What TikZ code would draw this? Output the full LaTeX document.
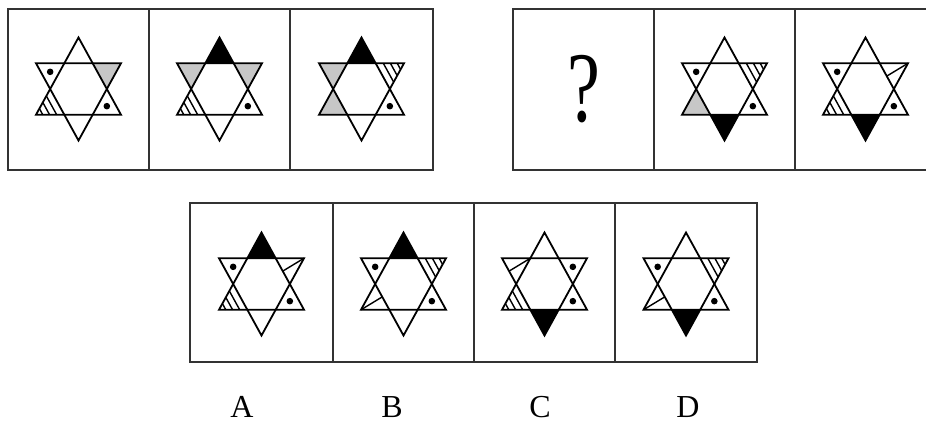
\documentclass[tikz,border=0pt]{standalone}
\usepackage{fontspec}
\setmainfont{Liberation Serif}
\usepackage{graphicx}
\usetikzlibrary{calc}
\tikzset{
  panel/.style={draw=black!80, line width=1.8pt},
  starline/.style={draw=black, line width=1.8pt, line join=miter},
  hatchline/.style={draw=black, line width=1.4pt},
  grayfill/.style={fill=black!22},
  blackfill/.style={fill=black},
  lab/.style={inner sep=0pt, font=\fontsize{32}{32}\selectfont}
}
\newcommand\starpts{%
 \coordinate (U) at (0,51.5); \coordinate (D) at (0,-51.5);
 \coordinate (TL) at (-42.5,25.75); \coordinate (TR) at (42.5,25.75);
 \coordinate (BL) at (-42.5,-25.75); \coordinate (BR) at (42.5,-25.75);
 \coordinate (ITL) at (-14.167,25.75); \coordinate (ITR) at (14.167,25.75);
 \coordinate (IBL) at (-14.167,-25.75); \coordinate (IBR) at (14.167,-25.75);
 \coordinate (VL) at (-28.333,0); \coordinate (VR) at (28.333,0);}
\newcommand\staroutline{\draw[starline] (U) -- (BR) -- (BL) -- cycle; \draw[starline] (D) -- (TL) -- (TR) -- cycle;}
\newcommand\fT[1]{\fill[#1] (U) -- (ITL) -- (ITR) -- cycle;}
\newcommand\fB[1]{\fill[#1] (D) -- (IBL) -- (IBR) -- cycle;}
\newcommand\fUL[1]{\fill[#1] (TL) -- (ITL) -- (VL) -- cycle;}
\newcommand\fUR[1]{\fill[#1] (TR) -- (ITR) -- (VR) -- cycle;}
\newcommand\fLL[1]{\fill[#1] (BL) -- (IBL) -- (VL) -- cycle;}
\newcommand\dUL{\fill (-28.333,17.167) circle (3.3pt);}
\newcommand\dUR{\fill (28.333,17.167) circle (3.3pt);}
\newcommand\dLR{\fill (28.333,-17.167) circle (3.3pt);}
\newcommand\hUR{\foreach \hh in {0.27,0.52,0.76}{\draw[hatchline] ($(ITR)!\hh!(TR)$) -- ($(VR)!\hh!(TR)$);}}
\newcommand\hLL{\foreach \hh in {0.27,0.52,0.76}{\draw[hatchline] ($(IBL)!\hh!(BL)$) -- ($(VL)!\hh!(BL)$);}}
\newcommand\lUR{\draw[hatchline] (TR) -- ($(ITR)!0.5!(VR)$);}
\newcommand\lLL{\draw[hatchline] (BL) -- ($(IBL)!0.5!(VL)$);}
\newcommand\lUL{\draw[hatchline] (ITL) -- ($(TL)!0.5!(VL)$);}
\begin{document}
\begin{tikzpicture}[x=1pt,y=-1pt]
\useasboundingbox (0,0) rectangle (926,423);
\clip (0,0) rectangle (926,423);
\fill[white] (0,0) rectangle (926,423);
% panels
\draw[panel] (8,9) rectangle (433,170);
\draw[panel] (149,9) -- (149,170);
\draw[panel] (290,9) -- (290,170);
\draw[panel] (513,9) rectangle (936,170);
\draw[panel] (654,9) -- (654,170);
\draw[panel] (795,9) -- (795,170);
\draw[panel] (190,203) rectangle (757,362);
\draw[panel] (333,203) -- (333,362);
\draw[panel] (474,203) -- (474,362);
\draw[panel] (615,203) -- (615,362);
% star 1
\begin{scope}[shift={(78.5,89)},yscale=-1]
\starpts \fUR{grayfill} \hLL \staroutline \dUL \dLR
\end{scope}
% star 2
\begin{scope}[shift={(219.5,89)},yscale=-1]
\starpts \fT{blackfill} \fUL{grayfill} \fUR{grayfill} \hLL \staroutline \dLR
\end{scope}
% star 3
\begin{scope}[shift={(361.5,89)},yscale=-1]
\starpts \fT{blackfill} \fUL{grayfill} \fLL{grayfill} \hUR \staroutline \dLR
\end{scope}
% question mark
\node[inner sep=0pt] (q) at (584,89) {\scalebox{0.74}[1]{\fontsize{100}{100}\selectfont ?}};
% star 4
\begin{scope}[shift={(724.5,89)},yscale=-1]
\starpts \fB{blackfill} \fLL{grayfill} \hUR \staroutline \dUL \dLR
\end{scope}
% star 5
\begin{scope}[shift={(865.5,89)},yscale=-1]
\starpts \fB{blackfill} \lUR \hLL \staroutline \dUL \dLR
\end{scope}
% option A
\begin{scope}[shift={(261.5,284)},yscale=-1]
\starpts \fT{blackfill} \lUR \hLL \staroutline \dUL \dLR
\end{scope}
% option B
\begin{scope}[shift={(403.5,284)},yscale=-1]
\starpts \fT{blackfill} \hUR \lLL \staroutline \dUL \dLR
\end{scope}
% option C
\begin{scope}[shift={(544.5,284)},yscale=-1]
\starpts \fB{blackfill} \lUL \hLL \staroutline \dUR \dLR
\end{scope}
% option D
\begin{scope}[shift={(686,284)},yscale=-1]
\starpts \fB{blackfill} \hUR \lLL \staroutline \dUL \dLR
\end{scope}
% labels
\node[lab] (la) at (242,407) {A};
\node[lab] (lb) at (392,407) {B};
\node[lab] (lc) at (540,407) {C};
\node[lab] (ld) at (688,407) {D};
\end{tikzpicture}
\end{document}
